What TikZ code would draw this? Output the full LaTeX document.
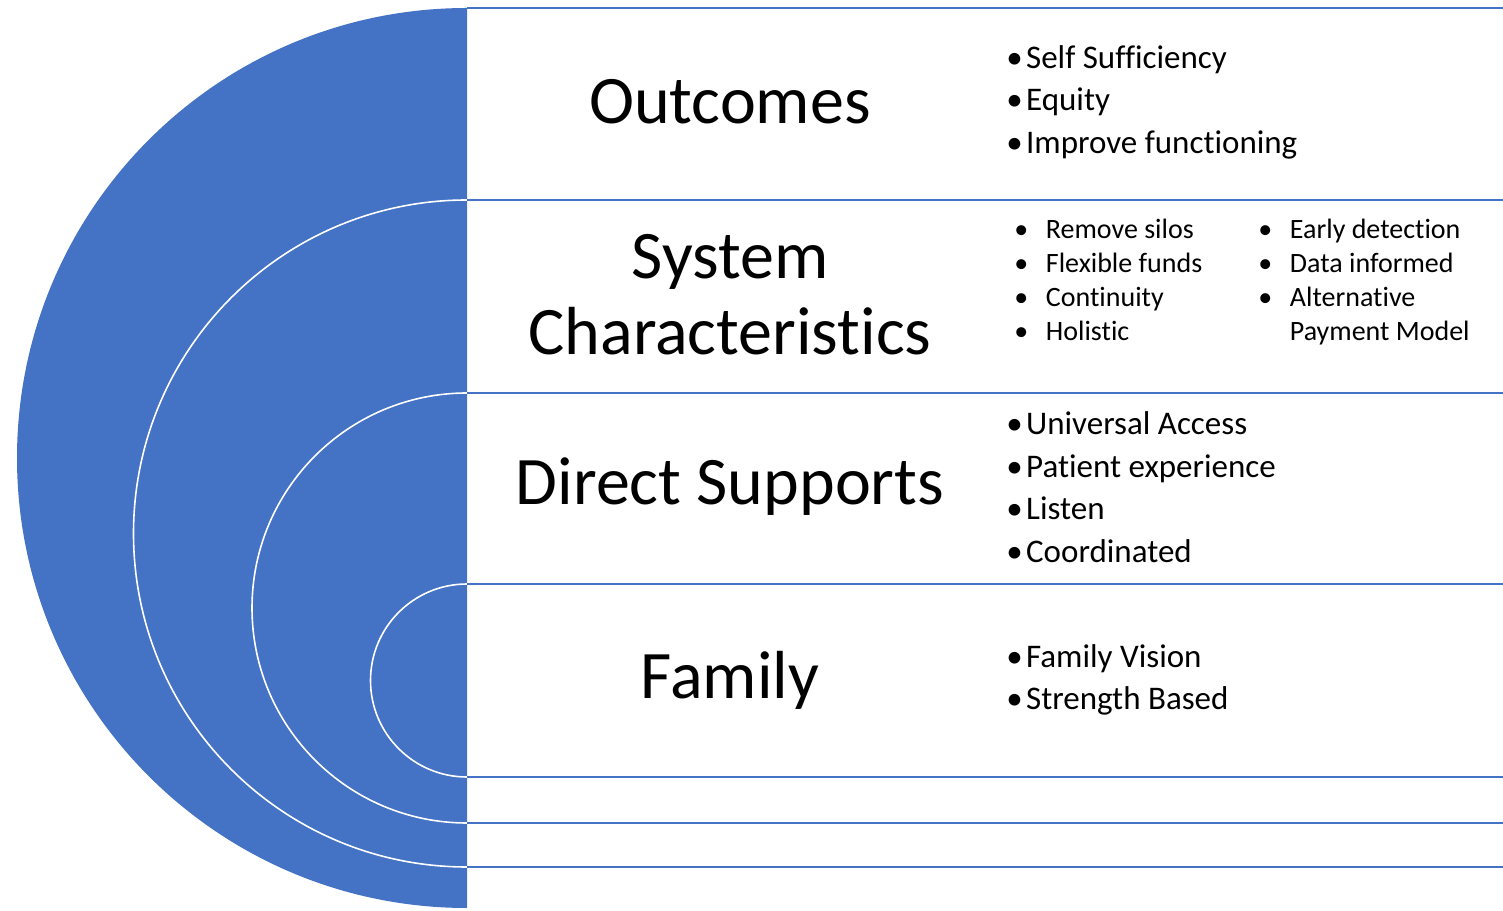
\documentclass[tikz,border=0pt]{standalone}
\usepackage{fontspec}
\setmainfont{Carlito}[Ligatures=NoCommon]
\usetikzlibrary{positioning}
\definecolor{ringblue}{HTML}{4472C4}
\newcommand{\bul}{\textbullet\hspace{0.1em}}

\begin{document}
\begin{tikzpicture}[x=0.5pt,y=0.5pt,
    layer/.style={font=\fontsize{34}{38}\selectfont,align=center,inner sep=0pt},
    points/.style={font=\fontsize{16.5}{21.25}\selectfont,align=left,anchor=west,inner sep=0pt},
    smallpoints/.style={font=\fontsize{14}{17}\selectfont,anchor=west,inner sep=0pt},
    divider/.style={ringblue,line width=1pt},
    ring/.style={white,line width=0.8pt}]
  \useasboundingbox (0,0) rectangle (1503,910);
  % half disc and rings
  \coordinate (top0) at (467,902);
  \coordinate (top1) at (467,710);
  \coordinate (top2) at (467,517);
  \coordinate (top3) at (467,326);
  \fill[ringblue] (top0) arc[start angle=90,end angle=270,radius=450] -- cycle;
  \draw[ring] (top1) arc[start angle=90,end angle=270,radius=333.5];
  \draw[ring] (top2) arc[start angle=90,end angle=270,radius=215];
  \draw[ring] (top3) arc[start angle=90,end angle=270,radius=96.5];
  \foreach \y in {902,710,517,326,133,87,43}
    \draw[divider] (467,\y) -- (1503,\y);
  % layer names
  \node[layer] (outcomes) at (730,808) {Outcomes};
  \node[layer] (system) at (730,615) {System\\Characteristics};
  \node[layer] (direct) at (730,423) {Direct Supports};
  \node[layer] (family) at (730,230) {Family};
  % bullet lists
  \coordinate (listx) at (1006,0);
  \node[points] (outcomesList) at (outcomes -| listx)
    {\bul Self Sufficiency\\\bul Equity\\\bul Improve functioning};
  \node[smallpoints] (systemListA) at (1014,627.5)
    {\begin{tabular}{@{}l@{\hspace{8.8pt}}l@{}}
      \textbullet & Remove silos\\ \textbullet & Flexible funds\\
      \textbullet & Continuity\\ \textbullet & Holistic
    \end{tabular}};
  \node[smallpoints] (systemListB) at (1258,627.5)
    {\begin{tabular}{@{}l@{\hspace{8.8pt}}l@{}}
      \textbullet & Early detection\\ \textbullet & Data informed\\
      \textbullet & Alternative\\ & Payment Model
    \end{tabular}};
  \node[points] (directList) at (direct -| listx)
    {\bul Universal Access\\\bul Patient experience\\\bul Listen\\\bul Coordinated};
  \node[points] (familyList) at (family -| listx)
    {\bul Family Vision\\\bul Strength Based};
\end{tikzpicture}
\end{document}
